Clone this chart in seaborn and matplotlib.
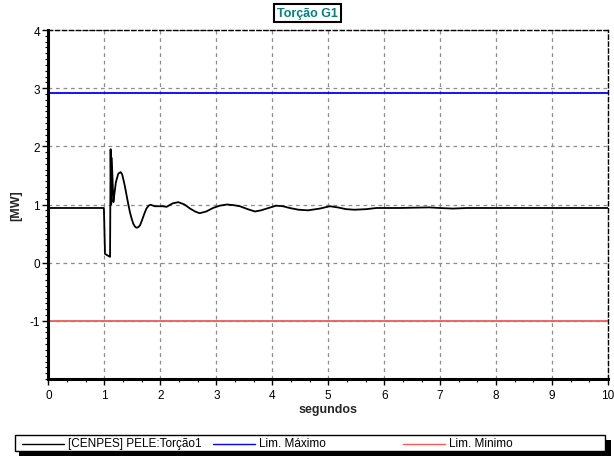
import matplotlib
matplotlib.use("Agg")
import matplotlib.pyplot as plt
from matplotlib.ticker import MultipleLocator
from matplotlib.lines import Line2D
from matplotlib.patches import Rectangle
import seaborn as sns
import pandas as pd

# Torque signal of generator G1 (time in s, torque in MW)
tempo = [0.00, 0.99, 1.01, 1.10, 1.11, 1.12, 1.13, 1.16, 1.18, 1.205, 1.247,
         1.289, 1.316, 1.336, 1.366, 1.396, 1.425, 1.455, 1.485, 1.515, 1.545,
         1.574, 1.604, 1.634, 1.66, 1.69, 1.72, 1.75, 1.79, 1.825, 1.90,
         2.04, 2.11, 2.22, 2.32, 2.43, 2.53, 2.62, 2.70, 2.82, 2.94, 3.06,
         3.19, 3.30, 3.42, 3.56, 3.69, 3.80, 3.90, 4.07, 4.19, 4.31, 4.47,
         4.64, 4.85, 5.03, 5.17, 5.32, 5.47, 5.68, 5.86, 6.28, 6.81, 6.99,
         7.23, 7.47, 10.00]
torcao = [0.94, 0.94, 0.15, 0.10, 1.95, 1.00, 1.80, 1.04, 1.20, 1.385, 1.53,
          1.557, 1.52, 1.44, 1.31, 1.156, 1.01, 0.87, 0.76, 0.67, 0.62,
          0.60, 0.61, 0.64, 0.70, 0.78, 0.86, 0.93, 0.98, 0.996, 0.97,
          0.97, 0.96, 1.02, 1.04, 1.00, 0.93, 0.88, 0.85, 0.88, 0.94, 0.98,
          1.00, 0.99, 0.97, 0.92, 0.88, 0.90, 0.93, 0.98, 0.97, 0.94, 0.91,
          0.90, 0.93, 0.97, 0.95, 0.92, 0.91, 0.92, 0.94, 0.94, 0.95, 0.94,
          0.93, 0.94, 0.94]

# Operating limits
lim_tempo = [0.0, 10.0]
lim_max = 2.91
lim_min = -1.0

series = ["[CENPES] PELE:Torção1", "Lim. Máximo", "Lim. Minimo"]
cores = ["#000000", "#0000ff", "#f05a5a"]

x_ticks = [0, 1, 2, 3, 4, 5, 6, 7, 8, 9, 10]
y_ticks = [-1, 0, 1, 2, 3, 4]

df = pd.concat([
    pd.DataFrame({"t": tempo, "v": torcao, "serie": series[0]}),
    pd.DataFrame({"t": lim_tempo, "v": [lim_max] * 2, "serie": series[1]}),
    pd.DataFrame({"t": lim_tempo, "v": [lim_min] * 2, "serie": series[2]}),
], ignore_index=True)

sns.set_style("white")
plt.rcParams["font.family"] = ["Liberation Sans", "DejaVu Sans"]
plt.rcParams["axes.unicode_minus"] = False

W, H = 614, 460
fig = plt.figure(figsize=(W / 100, H / 100), dpi=100)
ax = fig.add_axes([48.5 / W, 1 - 380 / H, (608 - 48.5) / W, (380 - 31) / H])

sns.lineplot(data=df, x="t", y="v", hue="serie", hue_order=series,
             palette=dict(zip(series, cores)), estimator=None, sort=False,
             linewidth=1.3, legend=False, ax=ax)

ax.set_xlim(0, 10)
ax.set_ylim(-2, 4)
ax.set_xticks(x_ticks)
ax.set_yticks(y_ticks)
ax.xaxis.set_minor_locator(MultipleLocator(1 / 3))
ax.yaxis.set_minor_locator(MultipleLocator(0.1))
ax.tick_params(axis="both", which="both", bottom=True, left=True,
               top=False, right=False)
ax.tick_params(axis="both", which="major", direction="out", length=4,
               width=1, labelsize=8.5, colors="#000000")
ax.tick_params(axis="both", which="minor", direction="out", length=2.5,
               width=0.8, colors="#000000")
ax.tick_params(axis="x", which="major", pad=3)
ax.tick_params(axis="y", which="major", pad=2)
ax.grid(True, which="major", color="#8c8c8c", linestyle=(0, (3, 3)),
        linewidth=0.9)
ax.set_axisbelow(True)

for side in ("left", "bottom"):
    ax.spines[side].set_linewidth(2.2)
    ax.spines[side].set_color("#000000")
for side in ("top", "right"):
    ax.spines[side].set_visible(True)
    ax.spines[side].set_linewidth(1.0)
    ax.spines[side].set_color("#000000")
    ax.spines[side].set_linestyle((0, (3, 2)))

ax.set_xlabel("segundos", fontsize=9, fontweight="bold", labelpad=2)
ax.set_ylabel("[MW]", fontsize=9, fontweight="bold", labelpad=5)

# Boxed title
fig.text(307.5 / W, 1 - 14 / H, "Torção G1", ha="center", va="center",
         fontsize=9, fontweight="bold", color="#008080",
         bbox=dict(boxstyle="square,pad=0.25", facecolor="white",
                   edgecolor="#000000", linewidth=1.5))

# Legend strip along the bottom: shadow, frame, then the three entries
def fx(px):
    return px / W


def fy(py):
    return 1 - py / H


fig.add_artist(Rectangle((fx(19), fy(457)), fx(592) - fx(0), fy(436) - fy(452),
                         transform=fig.transFigure, facecolor="#000000",
                         edgecolor="none", zorder=5))
fig.add_artist(Rectangle((fx(15), fy(452)), fx(590) - fx(0), fy(436) - fy(452),
                         transform=fig.transFigure, facecolor="white",
                         edgecolor="#000000", linewidth=1.0, zorder=6))
entry_x = [22, 213, 403]
for x0, name, col in zip(entry_x, series, cores):
    fig.add_artist(Line2D([fx(x0), fx(x0 + 42)], [fy(444.5), fy(444.5)],
                          transform=fig.transFigure, color=col,
                          linewidth=1.0, zorder=7))
    fig.text(fx(x0 + 46), fy(444.5), name, ha="left", va="center",
             fontsize=8.5, color="#000000", zorder=7)

fig.savefig("out.png", dpi=100, facecolor="white")
